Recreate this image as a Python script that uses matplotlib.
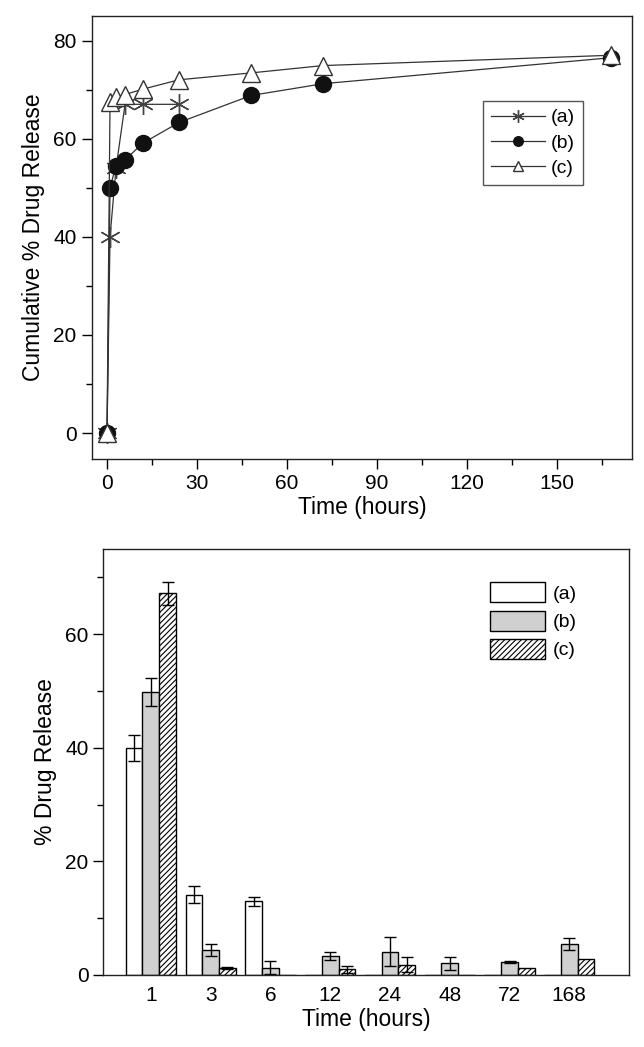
import numpy as np
import matplotlib
matplotlib.use('Agg')
import matplotlib.pyplot as plt

plt.rcParams['font.family'] = ['Liberation Sans', 'DejaVu Sans']
plt.rcParams['hatch.color'] = '#333333'
plt.rcParams['hatch.linewidth'] = 0.8

# cumulative release (top panel)
t_a = [0, 1, 3, 6, 12, 24]
cum_a = [0, 40, 54, 67, 67, 67]
t_bc = [0, 1, 3, 6, 12, 24, 48, 72, 168]
cum_b = [0, 50, 54.5, 55.7, 59.1, 63.3, 68.8, 71.2, 76.5]
cum_c = [0, 67.5, 68.5, 69, 70.1, 72, 73.4, 74.9, 77]

# release per interval (bottom panel)
times_bar = ['1', '3', '6', '12', '24', '48', '72', '168']
rel_a = [40.0, 14.1, 13.0, 0, 0, 0, 0, 0]
err_a = [2.3, 1.5, 0.8, 0, 0, 0, 0, 0]
rel_b = [49.8, 4.4, 1.3, 3.4, 4.1, 2.05, 2.3, 5.45]
err_b = [2.4, 1.0, 1.2, 0.7, 2.5, 1.1, 0.2, 1.1]
rel_c = [67.2, 1.2, 0, 1.0, 1.8, 0, 1.2, 2.8]
err_c = [2.0, 0.2, 0, 0.6, 1.3, 0, 0, 0]

fig = plt.figure(figsize=(6.44, 10.47), dpi=100)

# ---- top panel
ax1 = fig.add_axes([0.1429, 0.5616, 0.8385, 0.4231])
lc = '#333333'
ax1.plot(t_a, cum_a, color=lc, lw=0.9, marker=(6, 2, 0), ms=15,
         mec='#444444', mew=1.0, label='(a)', zorder=3)
ax1.plot(t_bc, cum_b, color=lc, lw=0.9, marker='o', ms=11.5,
         mfc='#111111', mec='#111111', label='(b)', zorder=4)
ax1.plot(t_bc, cum_c, color=lc, lw=0.9, marker='^', ms=13,
         mfc='white', mec='#333333', mew=1.0, label='(c)', zorder=5)
ax1.set_xlim(-5, 175)
ax1.set_ylim(-5.3, 85)
ax1.set_xticks([0, 30, 60, 90, 120, 150])
ax1.set_xticks(np.arange(15, 175, 30), minor=True)
ax1.set_yticks([0, 20, 40, 60, 80])
ax1.set_yticks([10, 30, 50, 70], minor=True)
ax1.tick_params(which='major', direction='out', length=7, width=1, labelsize=15, pad=4)
ax1.tick_params(which='minor', direction='out', length=4, width=1)
ax1.set_xlabel('Time (hours)', fontsize=16.5, labelpad=2)
ax1.set_ylabel('Cumulative % Drug Release', fontsize=16.5, labelpad=6)
leg = ax1.legend(loc='upper right', bbox_to_anchor=(0.909, 0.808), borderaxespad=0,
                 fontsize=14, fancybox=False, edgecolor='#555555', framealpha=1,
                 handlelength=2.8, handletextpad=0.3, markerscale=0.6,
                 borderpad=0.4, labelspacing=0.4)
leg.get_frame().set_linewidth(1.0)

# ---- bottom panel
ax2 = fig.add_axes([0.160, 0.0688, 0.8168, 0.4069])
x = np.arange(len(times_bar))
w = 0.28
ax2.bar(x - w, rel_a, w, color='white', edgecolor='black', lw=1, label='(a)')
ax2.bar(x, rel_b, w, color='#d0d0d0', edgecolor='black', lw=1, label='(b)')
ax2.bar(x + w, rel_c, w, color='white', edgecolor='black', lw=1, hatch='//////', label='(c)')
for off, vals, errs in [(-w, rel_a, err_a), (0, rel_b, err_b), (w, rel_c, err_c)]:
    idx = [i for i in range(len(vals)) if errs[i] > 0]
    ax2.errorbar(x[idx] + off, np.array(vals)[idx], yerr=np.array(errs)[idx],
                 fmt='none', ecolor='black', elinewidth=1, capsize=4, capthick=1)
ax2.set_xlim(-0.8, 8.0)
ax2.set_ylim(0, 75)
ax2.set_xticks(x)
ax2.set_xticklabels(times_bar)
ax2.set_yticks([0, 20, 40, 60])
ax2.set_yticks([10, 30, 50, 70], minor=True)
ax2.tick_params(axis='x', length=0, labelsize=15, pad=8)
ax2.tick_params(axis='y', which='major', direction='out', length=7, width=1, labelsize=15)
ax2.tick_params(axis='y', which='minor', direction='out', length=4, width=1)
ax2.set_xlabel('Time (hours)', fontsize=16.5, labelpad=2)
ax2.set_ylabel('% Drug Release', fontsize=16.5, labelpad=6)
ax2.legend(loc='upper right', bbox_to_anchor=(0.915, 0.94), borderaxespad=0,
           fontsize=14, frameon=False, handlelength=2.8, handleheight=1.2,
           handletextpad=0.4, labelspacing=0.4)

for ax in (ax1, ax2):
    for s in ax.spines.values():
        s.set_linewidth(1.0)
        s.set_color('#222222')

fig.savefig('out.png', dpi=100)
